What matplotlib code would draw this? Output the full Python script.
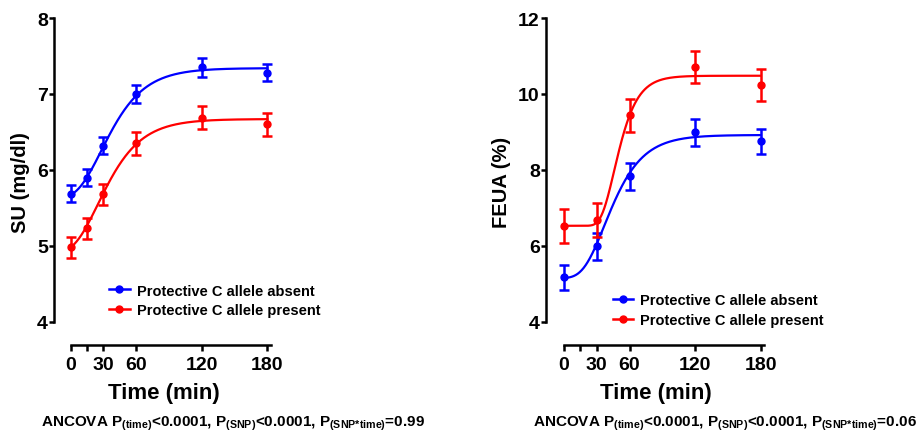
import numpy as np
import matplotlib
matplotlib.use("Agg")
import matplotlib.pyplot as plt
from matplotlib.lines import Line2D

plt.rcParams['font.family'] = ['Liberation Sans', 'DejaVu Sans']
plt.rcParams['font.weight'] = 'bold'
plt.rcParams['mathtext.fontset'] = 'custom'
plt.rcParams['mathtext.rm'] = 'Liberation Sans:bold'
plt.rcParams['mathtext.bf'] = 'Liberation Sans:bold'

# ---- data ----
labels = ['Protective C allele absent', 'Protective C allele present']

su_time = [0, 15, 30, 60, 120, 180]
su_absent = [5.69, 5.90, 6.32, 7.00, 7.35, 7.28]
su_absent_err = [0.11, 0.11, 0.11, 0.12, 0.12, 0.11]
su_present = [4.98, 5.23, 5.68, 6.35, 6.69, 6.60]
su_present_err = [0.14, 0.14, 0.14, 0.15, 0.15, 0.15]

fe_time = [0, 30, 60, 120, 180]
fe_absent = [5.17, 5.99, 7.83, 8.99, 8.75]
fe_absent_err = [0.34, 0.35, 0.35, 0.35, 0.34]
fe_present = [6.52, 6.68, 9.44, 10.71, 10.24]
fe_present_err = [0.44, 0.44, 0.44, 0.42, 0.43]

# fitted curve parameters (Gompertz: bottom, top, k, xc)
su_fit_absent = (5.62, 7.34, 0.045, 28)
su_fit_present = (4.90, 6.67, 0.045, 25)
fe_fit_absent = (5.15, 8.92, 0.051, 37)
fe_fit_present = (6.53, 10.48, 0.084, 46)

su_note = r'ANCOVA P$_{\rm (time)}$<0.0001, P$_{\rm (SNP)}$<0.0001, P$_{\rm (SNP{*}time)}$=0.99'
fe_note = r'ANCOVA P$_{\rm (time)}$<0.0001, P$_{\rm (SNP)}$<0.0001, P$_{\rm (SNP{*}time)}$=0.06'


def gompertz(x, p):
    b, t, k, xc = p
    return b + (t - b) * np.exp(-np.exp(-k * (x - xc)))


blue = '#0000ff'
red = '#ff0000'

fig = plt.figure(figsize=(9.18, 4.35), dpi=100)
ax1 = fig.add_axes([54.3 / 918, 1 - 345.7 / 435, 218.4 / 918, 326.7 / 435])
ax2 = fig.add_axes([546.2 / 918, 1 - 345.7 / 435, 220 / 918, 326.7 / 435])

xx = np.linspace(0, 180, 400)

panels = [
    (ax1, su_time, su_absent, su_absent_err, su_present, su_present_err,
     su_fit_absent, su_fit_present, 'SU (mg/dl)', (3.7, 8), [4, 5, 6, 7, 8], (-15, 185)),
    (ax2, fe_time, fe_absent, fe_absent_err, fe_present, fe_present_err,
     fe_fit_absent, fe_fit_present, 'FEUA (%)', (3.4, 12), [4, 6, 8, 10, 12], (-16.2, 185)),
]

for ax, t, a, ae, p, pe, fa, fp, ylab, ylim, yt, xlim in panels:
    ax.plot(xx, gompertz(xx, fa), color=blue, lw=1.6)
    ax.plot(xx, gompertz(xx, fp), color=red, lw=1.6)
    ax.errorbar(t, a, yerr=ae, fmt='o', color=blue, ms=5, elinewidth=1.8,
                capsize=3.5, capthick=1.8)
    ax.errorbar(t, p, yerr=pe, fmt='o', color=red, ms=5, elinewidth=1.8,
                capsize=3.5, capthick=1.8)
    ax.set_xlim(*xlim)
    ax.set_ylim(*ylim)
    ax.set_yticks(yt)
    ax.set_xticks([0, 30, 60, 120, 180])
    ax.set_xticks([15], minor=True)
    for s in ['top', 'right']:
        ax.spines[s].set_visible(False)
    ax.spines['left'].set_bounds(yt[0], yt[-1])
    ax.spines['bottom'].set_bounds(0, 183)
    ax.spines['left'].set_linewidth(1.8)
    ax.spines['bottom'].set_linewidth(1.8)
    ax.tick_params(axis='both', which='both', width=1.8, labelsize=14)
    ax.tick_params(axis='y', length=3.6, pad=1)
    ax.tick_params(axis='x', which='both', length=4.3, pad=4)
    ax.set_ylabel(ylab, fontsize=14.5, fontweight='bold', labelpad=5)
    ax.set_xlabel('Time (min)', fontsize=16, fontweight='bold', labelpad=6)
    ax.patch.set_visible(False)

handles = [Line2D([], [], color=blue, marker='o', ms=5, lw=1.8),
           Line2D([], [], color=red, marker='o', ms=5, lw=1.8)]

ax1.legend(handles, labels, loc='upper left', bbox_to_anchor=(0.225, 0.205),
           frameon=False, fontsize=10.5, handlelength=1.4, handletextpad=0.5,
           labelspacing=0.4, borderaxespad=0)
ax2.legend(handles, labels, loc='upper left', bbox_to_anchor=(0.275, 0.175),
           frameon=False, fontsize=10.5, handlelength=1.4, handletextpad=0.5,
           labelspacing=0.4, borderaxespad=0)

fig.text(233 / 918, 1 - 424 / 435, su_note, ha='center', va='center', fontsize=11)
fig.text(725 / 918, 1 - 424 / 435, fe_note, ha='center', va='center', fontsize=11)

fig.savefig('out.png', dpi=100)
